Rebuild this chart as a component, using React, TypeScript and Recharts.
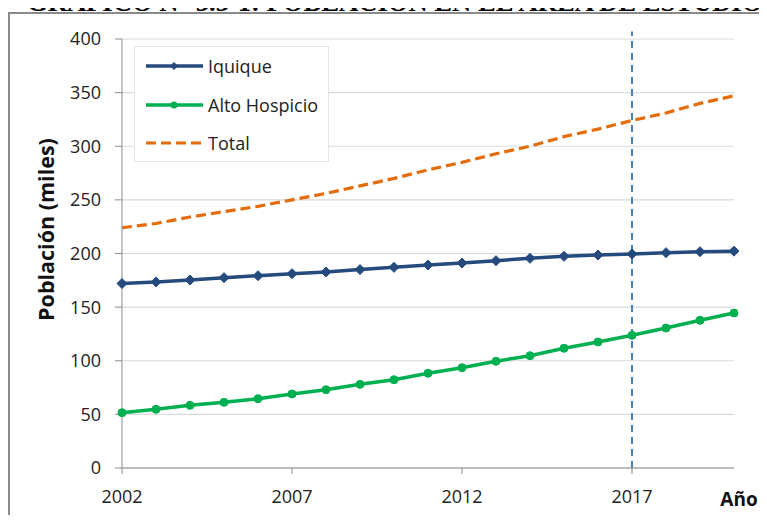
import { LineChart, Line, XAxis, YAxis, CartesianGrid, ReferenceLine } from 'recharts';

const years = [2002, 2003, 2004, 2005, 2006, 2007, 2008, 2009, 2010, 2011, 2012, 2013, 2014, 2015, 2016, 2017, 2018, 2019, 2020];
const iquique = [172, 173.5, 175.3, 177.5, 179.3, 181.2, 182.8, 185, 187.1, 189.2, 191.1, 193.3, 195.5, 197.4, 198.6, 199.6, 200.8, 201.7, 202.2];
const altoHospicio = [51.6, 54.7, 58.4, 61.2, 64.6, 69, 73, 78, 82.3, 88.3, 93.5, 99.5, 104.7, 111.6, 117.5, 123.7, 130.5, 137.7, 144.5];
const total = [224, 228, 234, 239, 244, 250, 256, 263, 270, 278, 285, 293, 300, 309, 316, 324, 331, 340, 347];
const xTicks = [2002, 2007, 2012, 2017];
const yTicks = [0, 50, 100, 150, 200, 250, 300, 350, 400];
const markYear = 2017;

const data = years.map((year, i) => ({
    year,
    iquique: iquique[i],
    alto: altoHospicio[i],
    total: total[i],
}));

const FONT = '"Open Sans", sans-serif';
const BLUE = '#254a7e';
const GREEN = '#00b050';
const ORANGE = '#e46c0a';

const Diamond = (props: any) => {
    const { cx, cy } = props;
    if (cx == null || cy == null) return null;
    return <path d={`M${cx},${cy - 5}L${cx + 5},${cy}L${cx},${cy + 5}L${cx - 5},${cy}Z`} fill={BLUE} stroke={BLUE} strokeWidth={1} />;
};

const legendItems = [
    { label: 'Iquique', color: BLUE, marker: 'diamond' },
    { label: 'Alto Hospicio', color: GREEN, marker: 'circle' },
    { label: 'Total', color: ORANGE, marker: 'none' },
];

const ChartLegend = () => (
    <div
        style={{
            position: 'absolute',
            left: 134,
            top: 46,
            width: 195,
            height: 116,
            border: '1px solid #e6e6e6',
            background: '#fff',
            boxSizing: 'border-box',
        }}
    >
        {legendItems.map((item) => (
            <div key={item.label} style={{ display: 'flex', alignItems: 'center', height: 38.5, paddingLeft: 10 }}>
                <svg width={60} height={12} style={{ marginRight: 3 }}>
                    {item.marker === 'none' ? (
                        <line x1={1} y1={6} x2={58} y2={6} stroke={item.color} strokeWidth={3} strokeDasharray="10 5" />
                    ) : (
                        <line x1={1} y1={6} x2={58} y2={6} stroke={item.color} strokeWidth={3.5} />
                    )}
                    {item.marker === 'diamond' && <path d="M29,2L33,6L29,10L25,6Z" fill={item.color} />}
                    {item.marker === 'circle' && <circle cx={29} cy={6} r={3.5} fill={item.color} />}
                </svg>
                <span style={{ fontFamily: FONT, fontSize: 18, color: '#222' }}>{item.label}</span>
            </div>
        ))}
    </div>
);

const YLabel = (props: any) => {
    const { viewBox } = props;
    const x = 45;
    const y = viewBox.y + viewBox.height / 2 - 24;
    return (
        <text x={x} y={y} transform={`rotate(-90, ${x}, ${y})`} textAnchor="middle" dominantBaseline="central" fontFamily={FONT} fontWeight="bold" fontSize={21.5} fill="#111">
            Población (miles)
        </text>
    );
};

const XLabel = (props: any) => {
    const { viewBox } = props;
    return (
        <text x={viewBox.x + viewBox.width + 5} y={506} textAnchor="middle" fontFamily={FONT} fontWeight="bold" fontSize={19} fill="#111">
            Año
        </text>
    );
};

const App = () => {
    return (
        <div style={{ position: 'relative', width: 767, height: 523, margin: -8, overflow: 'hidden', background: '#fff' }}>
            <div
                style={{
                    position: 'absolute',
                    left: 8,
                    top: 12,
                    width: 800,
                    height: 600,
                    borderTop: '2px solid #8a8a8a',
                    borderLeft: '2px solid #8a8a8a',
                }}
            />
            <div
                style={{
                    position: 'absolute',
                    left: 27,
                    top: -13,
                    fontFamily: '"Liberation Serif", serif',
                    fontWeight: 'bold',
                    fontSize: 26.6,
                    lineHeight: '30px',
                    whiteSpace: 'nowrap',
                }}
            >
                GRÁFICO N° 3.3-1: POBLACIÓN EN EL ÁREA DE ESTUDIO
            </div>
            <div style={{ position: 'absolute', left: 0, top: 0 }}>
                <LineChart width={767} height={523} data={data} margin={{ top: 39, right: 33, bottom: 25, left: 62 }}>
                    <CartesianGrid vertical={false} stroke="#d9d9d9" strokeWidth={1.2} />
                    <XAxis
                        dataKey="year"
                        type="number"
                        domain={[2002, 2020]}
                        ticks={xTicks}
                        height={30}
                        tickSize={6}
                        tickMargin={16}
                        stroke="#8c8c8c"
                        tick={{ fill: '#222', fontFamily: FONT, fontSize: 18 }}
                        label={<XLabel />}
                    />
                    <YAxis
                        domain={[0, 400]}
                        ticks={yTicks}
                        width={60}
                        tickSize={7}
                        tickMargin={14}
                        stroke="#8c8c8c"
                        tick={{ fill: '#222', fontFamily: FONT, fontSize: 18 }}
                        label={<YLabel />}
                    />
                    <ReferenceLine
                        segment={[{ x: markYear, y: 0 }, { x: markYear, y: 407 }]}
                        ifOverflow="visible"
                        stroke="#4a7ebb"
                        strokeWidth={2}
                        strokeDasharray="7 5"
                    />
                    <Line
                        dataKey="total"
                        stroke={ORANGE}
                        strokeWidth={3.2}
                        strokeDasharray="10 5"
                        dot={false}
                        isAnimationActive={false}
                    />
                    <Line
                        dataKey="alto"
                        stroke={GREEN}
                        strokeWidth={3.5}
                        dot={{ r: 4, fill: GREEN, stroke: GREEN, strokeWidth: 1 }}
                        isAnimationActive={false}
                    />
                    <Line
                        dataKey="iquique"
                        stroke={BLUE}
                        strokeWidth={3.5}
                        dot={<Diamond />}
                        isAnimationActive={false}
                    />
                </LineChart>
            </div>
            <ChartLegend />
        </div>
    );
};

export default App;
